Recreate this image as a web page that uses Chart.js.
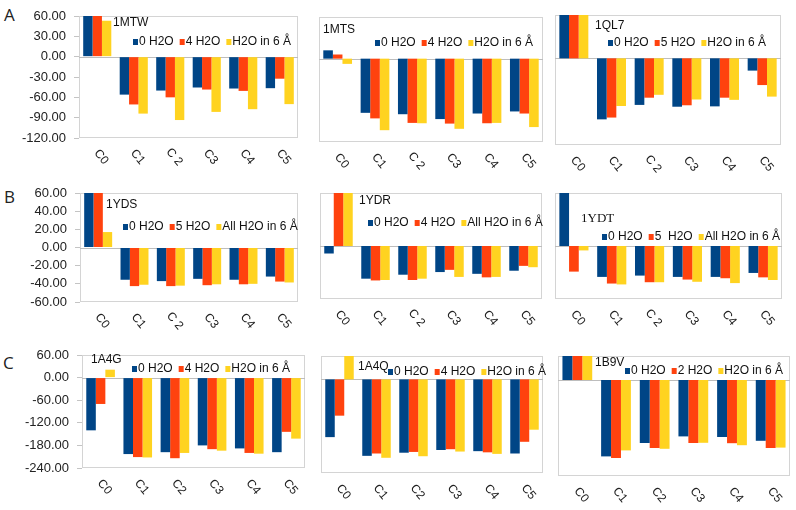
<!DOCTYPE html>
<html><head><meta charset="utf-8">
<script src="https://cdn.jsdelivr.net/npm/chart.js@4/dist/chart.umd.min.js"></script>
<style>
body{margin:0;background:#fff;}
#wrap{position:relative;width:796px;height:510px;overflow:hidden;background:#fff;}
#wrap canvas{position:absolute;left:0;top:0;pointer-events:none;}
.row{position:absolute;font-family:"Open Sans",sans-serif;font-size:17px;color:#222;line-height:1;}
</style></head><body>
<div id="wrap">
<div class="row" style="left:4px;top:6px">A</div>
<div class="row" style="left:4px;top:188px">B</div>
<div class="row" style="left:3px;top:354px">C</div>
</div>
<script>
// ---- categories / tick labels ----
const categoriesAB = ['C0','C1','C 2','C3','C4','C5'];
const categoriesC  = ['C0','C1','C2','C3','C4','C5'];
const yTicksA = [60,30,0,-30,-60,-90,-120];
const yTicksB = [60,40,20,0,-20,-40,-60];
const yTicksC = [60,0,-60,-120,-180,-240];

// ---- series names ----
const names4 = ['0 H2O','4 H2O','H2O in 6 Å'];
const namesQL7 = ['0 H2O','5 H2O','H2O in 6 Å'];
const namesYDS = ['0 H2O','5 H2O','All H2O in 6 Å'];
const namesYDR = ['0 H2O','4 H2O','All H2O in 6 Å'];
const namesYDT = ['0 H2O','5  H2O','All H2O in 6 Å'];
const namesB9V = ['0 H2O','2 H2O','H2O in 6 Å'];

// ---- values (bars reaching the top are shown at the axis maximum) ----
const mtw0 = [60,-56,-50,-45.5,-47,-46.5];
const mtw4 = [60,-70.5,-60,-48.5,-50.5,-32.5];
const mtw6 = [53,-84,-93.5,-81.5,-77.5,-70];

const mts0 = [12,-78,-80,-87,-79,-76];
const mts4 = [6,-86,-92.5,-93.5,-93,-79];
const mts6 = [-7.5,-103,-93,-101,-92.5,-98.5];

const ql70 = [60,-84.5,-64.5,-67,-66.5,-17];
const ql75 = [60,-82,-54.5,-65,-54.5,-37];
const ql76 = [60,-66,-50.5,-57,-57.5,-53];

const yds0 = [60,-35.5,-37,-34.5,-35.5,-32];
const yds5 = [60,-42.5,-42.5,-41.5,-40.5,-37.5];
const yds6 = [17,-41,-42,-40.5,-40,-38.5];

const ydr0 = [-8.5,-37,-32.5,-29.5,-31.5,-28];
const ydr4 = [60,-39,-38.5,-27,-35.5,-22.5];
const ydr6 = [60,-38.5,-37,-35,-35,-24];

const ydt0 = [60,-35,-33.5,-35,-35,-30.5];
const ydt5 = [-29,-42.5,-41,-38,-36.5,-35.5];
const ydt6 = [-5,-43.5,-41,-40.5,-42,-38.5];

const a4g0 = [-140,-203,-198,-180,-188,-198];
const a4g4 = [-70,-211,-214,-190,-200,-144];
const a4g6 = [21,-212,-200,-194,-202,-162];

const a4q0 = [-148,-196,-188,-181,-184,-190];
const a4q4 = [-93,-190,-186,-179,-187,-160];
const a4q6 = [60,-201,-197,-185,-191,-129];

const b9v0 = [60,-191,-157.5,-141,-142.5,-152];
const b9v2 = [60,-195,-170,-157.5,-158,-170];
const b9v6 = [60,-176,-172,-157,-163,-169];

// ---- styles / layout ----
const COLORS = ['#004586','#ff420e','#ffd320'];
const SANS = '"Liberation Sans", Arial, sans-serif';

const panels = [
 {title:'1MTW', names:names4, vals:[mtw0,mtw4,mtw6], cats:categoriesAB, ticks:yTicksA, showY:true,
  area:{l:79,t:16,r:298,b:138}, titleAt:[113,23], legendAt:[133,42]},
 {title:'1MTS', names:names4, vals:[mts0,mts4,mts6], cats:categoriesAB, ticks:yTicksA, showY:false,
  area:{l:319,t:17,r:543,b:142}, titleAt:[323,30], legendAt:[375,43]},
 {title:'1QL7', names:namesQL7, vals:[ql70,ql75,ql76], cats:categoriesAB, ticks:yTicksA, showY:false,
  area:{l:555,t:15,r:781,b:145}, titleAt:[595,26], legendAt:[608,43]},
 {title:'1YDS', names:namesYDS, vals:[yds0,yds5,yds6], cats:categoriesAB, ticks:yTicksB, showY:true,
  area:{l:80,t:193,r:298,b:302}, titleAt:[106,205], legendAt:[123,227]},
 {title:'1YDR', names:namesYDR, vals:[ydr0,ydr4,ydr6], cats:categoriesAB, ticks:yTicksB, showY:false,
  area:{l:320,t:193,r:542,b:299}, titleAt:[359,201], legendAt:[368,223]},
 {title:'1YDT', serif:true, names:namesYDT, vals:[ydt0,ydt5,ydt6], cats:categoriesAB, ticks:yTicksB, showY:false,
  area:{l:555,t:193,r:782,b:299}, titleAt:[581,219], legendAt:[602,237]},
 {title:'1A4G', names:names4, vals:[a4g0,a4g4,a4g6], cats:categoriesC, ticks:yTicksC, showY:true,
  area:{l:82,t:355,r:305,b:468}, titleAt:[91,360], legendAt:[132,369]},
 {title:'1A4Q', names:names4, vals:[a4q0,a4q4,a4q6], cats:categoriesC, ticks:yTicksC, showY:false,
  area:{l:321,t:356,r:543,b:473}, titleAt:[358,367], legendAt:[388,372]},
 {title:'1B9V', names:namesB9V, vals:[b9v0,b9v2,b9v6], cats:categoriesC, ticks:yTicksC, showY:false,
  area:{l:558,t:356,r:790,b:476}, titleAt:[595,363], legendAt:[625,371]}
];

const decor = {
  id:'decor',
  beforeDatasetsDraw(chart){
    const ctx = chart.ctx, ca = chart.chartArea, y = chart.scales.y;
    ctx.save();
    ctx.strokeStyle = '#d4d4d4'; ctx.lineWidth = 1;
    ctx.strokeRect(Math.round(ca.left)+0.5, Math.round(ca.top)+0.5, Math.round(ca.right-ca.left)-1, Math.round(ca.bottom-ca.top)-1);
    const zy = Math.round(y.getPixelForValue(0))+0.5;
    ctx.strokeStyle = '#bdbdbd';
    ctx.beginPath(); ctx.moveTo(ca.left, zy); ctx.lineTo(ca.right, zy); ctx.stroke();
    ctx.restore();
  },
  afterDraw(chart){
    const p = chart.config.options.plugins.decor;
    const ctx = chart.ctx, ca = chart.chartArea, xs = chart.scales.x;
    ctx.save();
    // category labels, rotated clockwise
    ctx.font = '12px ' + SANS; ctx.fillStyle = '#222';
    ctx.textAlign = 'center'; ctx.textBaseline = 'middle';
    chart.data.labels.forEach((c,i)=>{
      const x = xs.getPixelForValue(i);
      ctx.save(); ctx.translate(x+4, ca.bottom+19); ctx.rotate(50*Math.PI/180);
      ctx.fillText(c,0,0); ctx.restore();
    });
    // title
    ctx.textAlign = 'left';
    ctx.font = p.serif ? '13px "Liberation Serif", "Times New Roman", serif' : '12px ' + SANS;
    ctx.fillStyle = '#111';
    ctx.fillText(p.title, p.titleAt[0], p.titleAt[1]);
    // legend
    ctx.font = '12px ' + SANS;
    let lx = p.legendAt[0]; const ly = p.legendAt[1];
    chart.data.datasets.forEach(ds=>{
      ctx.fillStyle = ds.backgroundColor; ctx.fillRect(lx, ly-3, 5, 6);
      lx += 6;
      ctx.fillStyle = '#111'; ctx.fillText(ds.label, lx, ly);
      lx += ctx.measureText(ds.label).width + 6;
    });
    ctx.restore();
  }
};

const wrap = document.getElementById('wrap');
panels.forEach(p=>{
  const cv = document.createElement('canvas');
  cv.width = 796; cv.height = 510;
  wrap.appendChild(cv);
  const a = p.area;
  const yScale = {display:p.showY, min:Math.min(...p.ticks), max:Math.max(...p.ticks),
    afterBuildTicks:s=>{ s.ticks = p.ticks.map(v=>({value:v})); },
    ticks:{autoSkip:false, callback:v=>Number(v).toFixed(2), color:'#222', padding:8, font:{family:SANS, size:13}},
    grid:{drawOnChartArea:false, tickLength:5, tickColor:'#c4c4c4'},
    border:{display:false}};
  if (p.showY) yScale.afterFit = s=>{ s.width = a.l; };
  new Chart(cv, {
    type:'bar',
    data:{
      labels:p.cats,
      datasets:p.names.map((n,i)=>({label:n, data:p.vals[i], backgroundColor:COLORS[i], borderWidth:0,
        categoryPercentage:0.77, barPercentage:1.0}))
    },
    options:{
      responsive:false, animation:false, events:[],
      layout:{padding:{left:p.showY?0:a.l, top:a.t, right:796-a.r, bottom:510-a.b}},
      plugins:{legend:{display:false}, tooltip:{enabled:false},
        decor:{title:p.title, serif:!!p.serif, titleAt:p.titleAt, legendAt:p.legendAt}},
      scales:{ x:{display:false, offset:true}, y:yScale }
    },
    plugins:[decor]
  });
});
</script>
</body></html>
